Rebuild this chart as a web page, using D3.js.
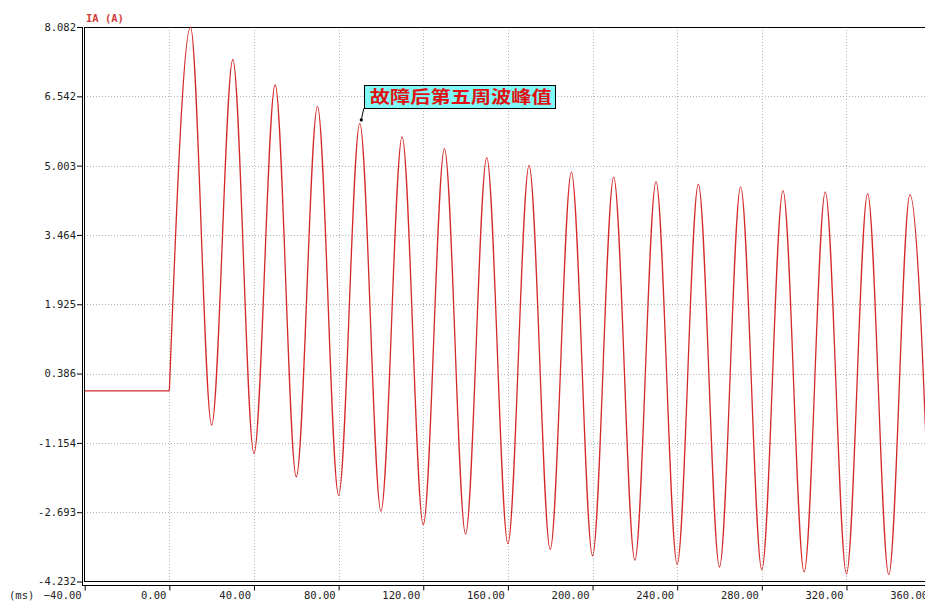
<!DOCTYPE html>
<html><head><meta charset="utf-8">
<script src="https://cdn.jsdelivr.net/npm/d3@7"></script>
<style>
html,body{margin:0;padding:0;background:#fff;overflow:hidden}
svg{display:block}
</style></head><body>
<svg id="chart" width="925" height="603"></svg>
<script>
// ---- data ----
const xTickValues = [-40, 0, 40, 80, 120, 160, 200, 240, 280, 320, 360];
const yTickLabels = ["8.082", "6.542", "5.003", "3.464", "1.925", "0.386", "-1.154", "-2.693", "-4.232"];
const preFaultTimes = [-40, 0];
const preFaultValues = [0, 0];
const faultStartTime = 0;
const faultStartValue = 0;
const peakTimes = [10, 30, 50, 70, 90, 110, 130, 150, 170, 190, 210, 230, 250, 270, 290, 310, 330, 350];
const peakValues = [8.08, 7.36, 6.80, 6.32, 5.94, 5.64, 5.38, 5.18, 5.01, 4.86, 4.75, 4.65, 4.59, 4.53, 4.45, 4.42, 4.38, 4.36];
const troughTimes = [20, 40, 60, 80, 100, 120, 140, 160, 180, 200, 220, 240, 260, 280, 300, 320, 340, 360];
const troughValues = [-0.76, -1.39, -1.91, -2.32, -2.67, -2.97, -3.18, -3.39, -3.52, -3.66, -3.76, -3.85, -3.91, -3.97, -4.02, -4.06, -4.08, -4.09];
const annotationTime = 90;
const annotationText = "故障后第五周波峰值";
const yAxisTitle = "IA (A)";
const xAxisUnit = "(ms)";

// ---- layout ----
const W = 925, H = 603;
const plotLeft = 84, plotTop = 27, plotBottom = 581.5;
const axisX = 82, axisY = 585.5;
const labelFont = "'DejaVu Sans Mono', 'Liberation Mono', monospace";

const svg = d3.select("#chart");
const yTickValues = yTickLabels.map(Number);

const x = d3.scaleLinear().domain([-40, 360]).range([84.7, 931.1]);
const y = d3.scaleLinear().domain([-4.232, 8.082]).range([plotBottom, plotTop]);

// grid
const grid = svg.append("g").attr("stroke", "#b4b4b4").attr("stroke-dasharray", "1,2")
  .attr("shape-rendering", "crispEdges");
grid.selectAll("line.h").data(yTickValues.slice(1, -1)).join("line")
  .attr("x1", plotLeft).attr("x2", W)
  .attr("y1", d => Math.round(y(d)) + 0.5).attr("y2", d => Math.round(y(d)) + 0.5);
grid.selectAll("line.v").data(xTickValues.slice(1)).join("line")
  .attr("y1", plotTop).attr("y2", plotBottom)
  .attr("x1", d => Math.round(x(d)) + 0.5).attr("x2", d => Math.round(x(d)) + 0.5);

// frame lines
const frame = svg.append("g").attr("stroke", "#000").attr("stroke-width", 1)
  .attr("shape-rendering", "crispEdges");
frame.append("line").attr("x1", plotLeft).attr("x2", W).attr("y1", plotTop + 0.5).attr("y2", plotTop + 0.5);
frame.append("line").attr("x1", plotLeft + 0.5).attr("x2", plotLeft + 0.5).attr("y1", plotTop).attr("y2", plotBottom);
frame.append("line").attr("x1", plotLeft).attr("x2", W).attr("y1", plotBottom).attr("y2", plotBottom);
frame.append("line").attr("x1", axisX + 0.5).attr("x2", axisX + 0.5).attr("y1", plotTop).attr("y2", axisY);
frame.append("line").attr("x1", axisX).attr("x2", W).attr("y1", axisY).attr("y2", axisY);

// y axis ticks
const yAxis = svg.append("g").attr("transform", `translate(${axisX},0)`)
  .call(d3.axisLeft(y).tickValues(yTickValues).tickSize(5).tickPadding(1)
    .tickFormat((d, i) => yTickLabels[i]));
yAxis.select(".domain").remove();
yAxis.selectAll("text").attr("font-family", labelFont).attr("font-size", "10.5px").attr("fill", "#222");
yAxis.selectAll("line").attr("stroke", "#000");

// x axis ticks
const xAxis = svg.append("g").attr("transform", `translate(0,${axisY})`)
  .call(d3.axisBottom(x).tickValues(xTickValues).tickSize(5).tickFormat(d3.format(".2f")));
xAxis.select(".domain").remove();
xAxis.selectAll("line").attr("stroke", "#000");
xAxis.selectAll("text").attr("font-family", labelFont).attr("font-size", "10.5px").attr("fill", "#222")
  .attr("text-anchor", "end").attr("x", -3.5).attr("y", 13).attr("dy", 0);

svg.append("text").attr("x", 9).attr("y", axisY + 13).text(xAxisUnit)
  .attr("font-family", labelFont).attr("font-size", "10.5px").attr("fill", "#222");

svg.append("text").attr("x", 86).attr("y", 22).text(yAxisTitle)
  .attr("font-family", labelFont).attr("font-size", "10.5px").attr("font-weight", "bold").attr("fill", "#d03a3a");

// waveform
const red = "#d42a2a";
const pre = preFaultTimes.map((t, i) => [t, preFaultValues[i]]);
const post = [[faultStartTime, faultStartValue]]
  .concat(peakTimes.map((t, i) => [t, peakValues[i]]))
  .concat(troughTimes.map((t, i) => [t, troughValues[i]]))
  .sort((a, b) => a[0] - b[0]);

const line = d3.line().x(d => x(d[0])).y(d => y(d[1]));
svg.append("path").attr("d", line(pre)).attr("fill", "none").attr("stroke", red).attr("stroke-width", 1.3);
svg.append("path").attr("d", line.curve(d3.curveMonotoneX)(post))
  .attr("fill", "none").attr("stroke", red).attr("stroke-width", 1.3);

// annotation
const ai = peakTimes.indexOf(annotationTime);
const ax = x(annotationTime), ay = y(peakValues[ai]);
const boxX = ax + 4, boxY = ay - 38, boxW = 191, boxH = 23;
const ann = svg.append("g");
ann.append("line").attr("x1", ax + 1.5).attr("y1", ay - 3.5).attr("x2", boxX).attr("y2", boxY + boxH)
  .attr("stroke", "#000").attr("stroke-width", 1);
ann.append("circle").attr("cx", ax + 1.5).attr("cy", ay - 3.5).attr("r", 1.6).attr("fill", "#000");
ann.append("rect").attr("x", Math.round(boxX) + 0.5).attr("y", Math.round(boxY) + 0.5)
  .attr("width", boxW).attr("height", boxH)
  .attr("fill", "#80f8f8").attr("stroke", "#000").attr("stroke-width", 1);
ann.append("text").attr("x", boxX + 6).attr("y", boxY + 17.5)
  .attr("font-family", "'Noto Sans CJK SC', sans-serif").attr("font-size", "16.5px")
  .attr("font-weight", "bold").attr("fill", "#e01010")
  .attr("textLength", 182).attr("lengthAdjust", "spacingAndGlyphs")
  .text(annotationText);
</script>
</body></html>
